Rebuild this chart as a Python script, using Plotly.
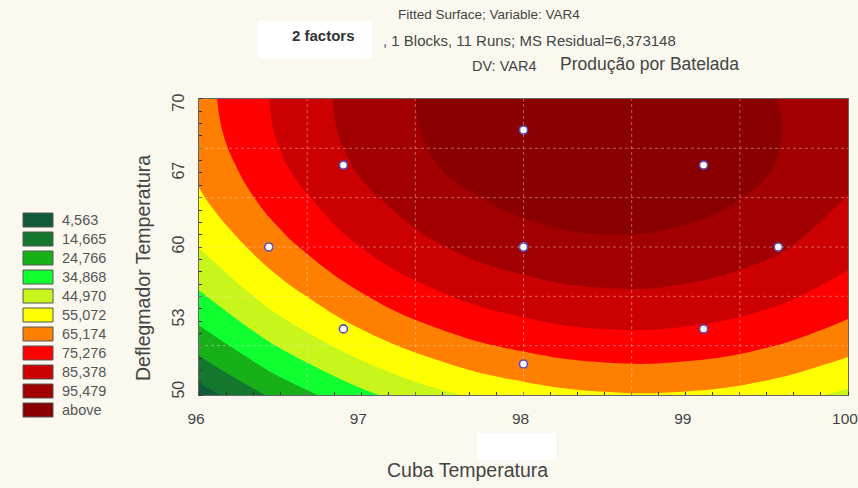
import plotly.graph_objects as go

# Fitted surface values on a coarse grid
grid_x = [96.0, 96.5, 97.0, 97.5, 98.0, 98.5, 99.0, 99.5, 100.0]          # Cuba Temperatura
grid_y = [47, 50, 53, 56, 60, 64, 67, 70, 73]                              # Deflegmador Temperatura
z_y47 = [-1.6, 16.5, 30.9, 41.7, 48.9, 52.5, 52.5, 48.9, 41.6]
z_y50 = [11.9, 29.7, 43.8, 54.4, 61.3, 64.7, 64.4, 60.5, 53.1]
z_y53 = [23.8, 41.3, 55.2, 65.5, 72.2, 75.3, 74.7, 70.6, 62.9]
z_y56 = [34.0, 51.3, 64.9, 75.0, 81.4, 84.2, 83.4, 79.0, 71.0]
z_y60 = [45.2, 62.1, 75.4, 85.1, 91.2, 93.7, 92.5, 87.8, 79.5]
z_y64 = [53.5, 70.1, 83.0, 92.4, 98.1, 100.3, 98.8, 93.7, 85.0]
z_y67 = [57.8, 74.2, 86.9, 96.0, 101.4, 103.3, 101.6, 96.3, 87.3]
z_y70 = [60.6, 76.6, 89.1, 97.9, 103.1, 104.8, 102.8, 97.2, 88.0]
z_y73 = [61.7, 77.5, 89.7, 98.3, 103.2, 104.6, 102.4, 96.5, 87.1]
z_grid = [z_y47, z_y50, z_y53, z_y56, z_y60, z_y64, z_y67, z_y70, z_y73]

# experimental runs (11 runs, 3 centre replicates)
run_x = [96.89, 99.11, 96.89, 99.11, 96.43, 99.57, 98, 98, 98, 98, 98]
run_y = [53, 53, 67, 67, 60, 60, 50, 70, 60, 60, 60]

levels = [4.563, 14.665, 24.766, 34.868, 44.970, 55.072, 65.174, 75.276, 85.378, 95.479]
legend_labels = ["4,563", "14,665", "24,766", "34,868", "44,970", "55,072",
                 "65,174", "75,276", "85,378", "95,479", "above"]
band_colors = ["#125a3c", "#13782e", "#18b018", "#10ff30", "#c8f51a", "#ffff00",
               "#ff8000", "#ff0000", "#cc0000", "#a20000", "#8a0000"]

x_tick_vals = [96, 97, 98, 99, 100]
x_tick_text = ["96", "97", "98", "99", "100"]
y_tick_vals = [47.6, 53.76, 60, 66.32, 72.14]
y_tick_text = ["50", "53", "60", "67", "70"]

x_range = [96, 100]
y_range = [47.35, 72.65]
x_grid_step, x_grid_origin = 2/3, 98
y_grid_step, y_grid_origin = 4.217, 60

W, H = 858, 488
L, R, T, B = 199, 10, 99, 93
PW, PH = W-L-R, H-T-B

def px(x):
    return (x-L)/PW

def py(y):
    return (H-B-y)/PH

step = (levels[-1]-levels[0])/(len(levels)-1)
nb = len(band_colors)
cscale = [[i/(nb-1), c] for i, c in enumerate(band_colors)]

fig = go.Figure()
fig.add_trace(go.Contour(x=grid_x, y=grid_y, z=z_grid, showscale=False, colorscale=cscale,
                         contours=dict(start=levels[0], end=levels[-1], size=step,
                                       coloring="fill", showlines=False),
                         line=dict(width=0, smoothing=1.3), hoverinfo="skip"))
fig.add_trace(go.Scatter(x=run_x, y=run_y, mode="markers", showlegend=False,
                         marker=dict(symbol="circle", size=8, color="white",
                                     line=dict(color="#5a4fb8", width=1.6))))

NARROW = "Liberation Sans Narrow, Arial Narrow, Liberation Sans, Arial"
SANS = "Liberation Sans, Arial"

shapes = []
dash_col = "rgba(255,225,225,0.42)"
gx_list = [x_grid_origin + k*x_grid_step for k in range(-2, 3)]
gy_list = [y_grid_origin + k*y_grid_step for k in range(-2, 3)]
for gx in gx_list:
    shapes.append(dict(type="line", xref="x", yref="paper", x0=gx, x1=gx, y0=0, y1=1,
                       line=dict(color=dash_col, width=1, dash="dot"), layer="above"))
for gy in gy_list:
    shapes.append(dict(type="line", xref="paper", yref="y", x0=0, x1=1, y0=gy, y1=gy,
                       line=dict(color=dash_col, width=1, dash="dot"), layer="above"))

annotations = []
for i, (lab, col) in enumerate(zip(legend_labels, band_colors)):
    yc = 220 + 19*i
    shapes.append(dict(type="rect", xref="paper", yref="paper", x0=px(23), x1=px(53),
                       y0=py(yc+7), y1=py(yc-7), fillcolor=col,
                       line=dict(color="#555555", width=1)))
    annotations.append(dict(xref="paper", yref="paper", x=px(60), y=py(yc), text=lab,
                            showarrow=False, xanchor="left", yanchor="middle",
                            font=dict(family=SANS, size=14.5, color="#555555")))

# white patches behind some captions
shapes.append(dict(type="rect", xref="paper", yref="paper", x0=px(258), x1=px(372), y0=py(58), y1=py(21),
                   fillcolor="white", line=dict(width=0), layer="below"))
shapes.append(dict(type="rect", xref="paper", yref="paper", x0=px(478), x1=px(556), y0=py(460), y1=py(433),
                   fillcolor="white", line=dict(width=0), layer="below"))

def txt(x, y, s, size, xa="center", bold=False, fam=SANS, col="#444444"):
    annotations.append(dict(xref="paper", yref="paper", x=px(x), y=py(y), text=s, showarrow=False,
                            xanchor=xa, yanchor="middle",
                            font=dict(family=fam, size=size, color=col,
                                      weight="bold" if bold else "normal")))

txt(489, 14, "Fitted Surface; Variable: VAR4", 13.5)
txt(323, 36, "2 factors", 15, bold=True, col="#333333")
txt(381, 41, ", 1 Blocks, 11 Runs; MS Residual=6,373148", 15, xa="left")
txt(470, 66, "DV: VAR4", 14.5, xa="left")
txt(558, 64, "Produção por Batelada", 17.5, xa="left")
txt(467, 470, "Cuba Temperatura", 19.5)
annotations.append(dict(xref="paper", yref="paper", x=px(143), y=py(268), text="Deflegmador Temperatura",
                        showarrow=False, textangle=-90, xanchor="center", yanchor="middle",
                        font=dict(family=SANS, size=19.5, color="#444444")))

fig.update_layout(
    width=W, height=H, autosize=False,
    margin=dict(l=L, r=R, t=T, b=B, pad=0, autoexpand=False),
    paper_bgcolor="#fbf9ef", plot_bgcolor="#fbf9ef",
    showlegend=False, shapes=shapes, annotations=annotations,
    xaxis=dict(range=x_range, tickmode="array", tickvals=x_tick_vals, ticktext=x_tick_text,
               showgrid=False, zeroline=False, ticks="", showline=True, mirror=True,
               linecolor="#666666", linewidth=1, ticklabelstandoff=9, ticklabeloverflow="allow",
               ticklabelshift=-3, automargin=False,
               tickfont=dict(family=NARROW, size=15.5, color="#444444"),
               minor=dict(dtick=x_grid_step/4, tick0=x_range[0], ticks="inside", ticklen=3,
                          tickcolor="#333333", showgrid=False),
               layer="above traces"),
    yaxis=dict(range=y_range, tickmode="array", tickvals=y_tick_vals, ticktext=y_tick_text,
               showgrid=False, zeroline=False, ticks="", showline=True, mirror=True,
               linecolor="#666666", linewidth=1, tickangle=-90, ticklabelstandoff=8,
               automargin=False,
               tickfont=dict(family=NARROW, size=16, color="#444444"),
               minor=dict(dtick=y_grid_step/4, tick0=y_grid_origin, ticks="inside", ticklen=3,
                          tickcolor="#333333", showgrid=False),
               layer="above traces"),
)
fig.write_html("out.html")
